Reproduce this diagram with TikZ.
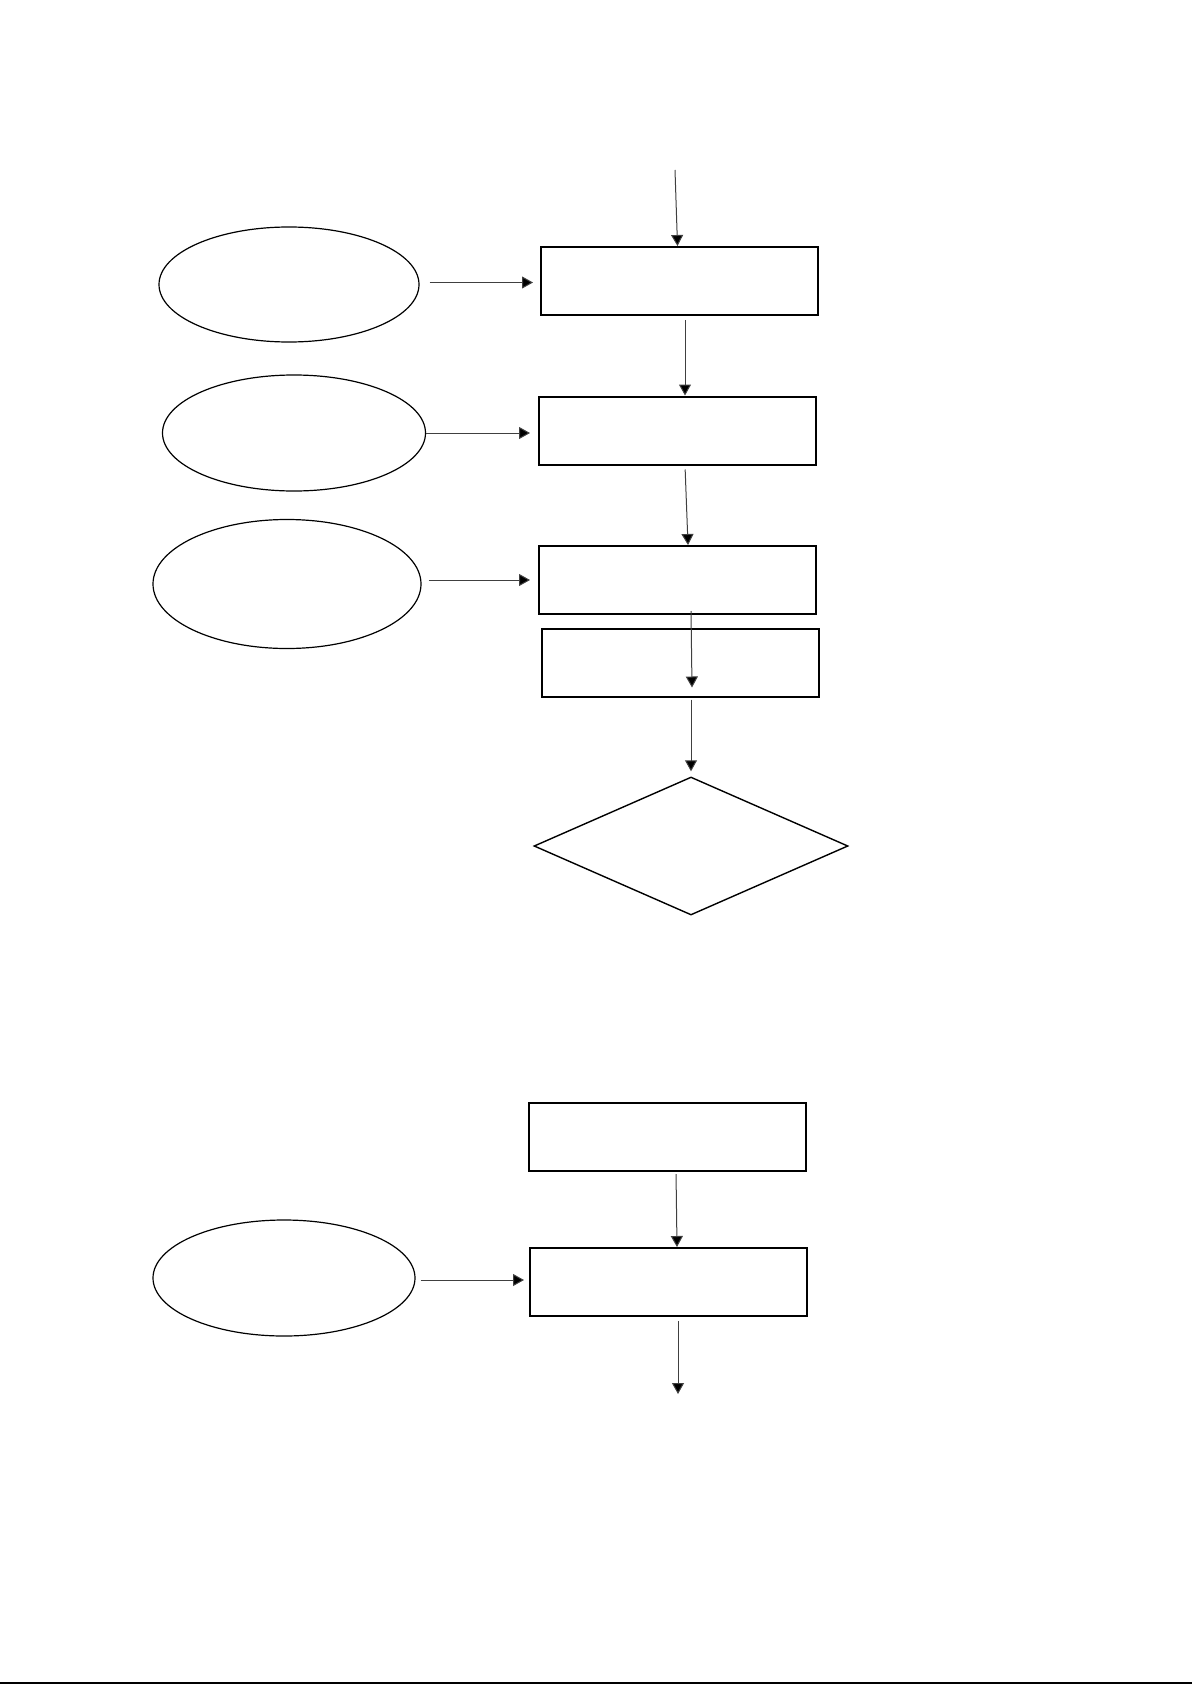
\documentclass[tikz,border=0pt]{standalone}
\usepackage{tikz}
\usetikzlibrary{shapes,shapes.geometric,arrows.meta,positioning,calc}

\begin{document}
\begin{tikzpicture}[x=0.5pt,y=-0.5pt,
    stepbox/.style={draw, line width=1pt, minimum width=138.5pt, minimum height=34pt, inner sep=0pt},
    inbox/.style={draw, ellipse, line width=0.6pt, inner sep=0pt},
    testbox/.style={draw, diamond, line width=0.7pt, minimum width=157pt, minimum height=69pt, inner sep=0pt},
    arr/.style={draw=black!75, line width=0.5pt, -{Triangle[length=5.5pt,width=6pt,fill=black]}}]
\useasboundingbox (0,0) rectangle (1192,1685);

% upper chart
\node[stepbox] (box1) at (679.5,281) {};
\node[stepbox] (box2) at (677.5,430.5) {};
\node[stepbox] (box3) at (677.5,580) {};
\node[stepbox] (box4) at (680.5,662.5) {};
\node[testbox] (test) at (691,846) {};
\node[inbox, minimum width=130pt, minimum height=57.5pt] (in1) at (289,284.5) {};
\node[inbox, minimum width=131.5pt, minimum height=58pt] (in2) at (294,433) {};
\node[inbox, minimum width=134pt, minimum height=64.5pt] (in3) at (287,584) {};
\coordinate (start) at (675,170);

\draw[arr] (start) -- ([xshift=-1pt]box1.north);
\draw[arr, shorten <=5pt, shorten >=3.5pt] ([yshift=1pt]in1.east) -- ([yshift=1pt]in1.east -| box1.west);
\draw[arr, shorten <=2pt] ([xshift=2.75pt]box1.south) -- ([xshift=3.75pt]box2.north);
\draw[arr, shorten >=4pt] (in2.east) -- (in2.east -| box2.west);
\draw[arr, shorten <=2pt] ([xshift=3.75pt]box2.south) -- ([xshift=5.25pt]box3.north);
\draw[arr, shorten <=3.5pt, shorten >=4pt] (box3.west -| in3.east) -- (box3.west);
\draw[arr] ([xshift=6.75pt,yshift=2pt]box3.south) -- ([xshift=5.75pt,yshift=5pt]box4.south);
\draw[arr, shorten <=1pt, shorten >=2.5pt] ([xshift=5.25pt]box4.south) -- (test.north);

% lower chart
\node[stepbox] (box5) at (667.5,1137) {};
\node[stepbox] (box6) at (668.5,1282) {};
\node[inbox, minimum width=131pt, minimum height=58pt] (in4) at (284,1278) {};
\coordinate (stop) at (678,1394);

\draw[arr, shorten <=1pt] ([xshift=4.25pt]box5.south) -- ([xshift=4.25pt]box6.north);
\draw[arr, shorten <=2.5pt, shorten >=2.5pt] ([yshift=-1pt]in4.east) -- ([yshift=-1pt]in4.east -| box6.west);
\draw[arr, shorten <=2pt] ([xshift=4.75pt]box6.south) -- (stop);

\draw[line width=0.7pt] (0,1683) -- (1192,1683);
\end{tikzpicture}
\end{document}
